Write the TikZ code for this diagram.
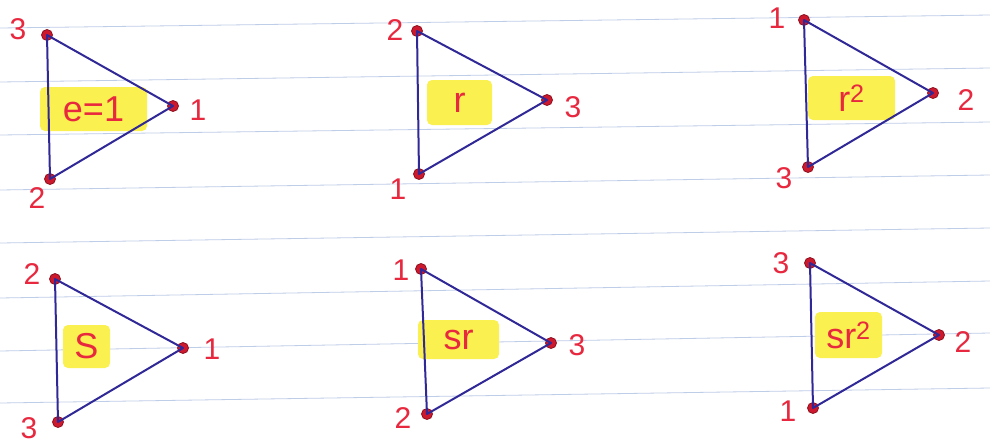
\documentclass[tikz,border=0pt]{standalone}
\usepackage{fontspec}
\setmainfont{Liberation Sans}
\definecolor{penred}{RGB}{232,40,62}
\definecolor{dotred}{RGB}{205,25,45}
\definecolor{penblue}{RGB}{48,40,150}
\definecolor{hilite}{RGB}{250,240,80}
\definecolor{rule}{RGB}{190,205,232}
\tikzset{
  vtx/.style={circle,fill=dotred,draw=dotred!70!black,line width=0.8pt,inner sep=0pt,minimum size=11pt},
  edge/.style={penblue,line width=2pt,line join=round},
  lbl/.style={text=penred,font=\fontsize{30}{30}\selectfont,inner sep=0pt},
  hl/.style={fill=hilite,rounded corners=5pt,text=penred,font=\fontsize{36}{36}\selectfont,inner sep=0pt},
  ruled/.style={rule,line width=0.8pt}
}
\begin{document}
\begin{tikzpicture}[x=1pt,y=-1pt]
\useasboundingbox (0,0) rectangle (990,445);
\fill[white] (0,0) rectangle (990,445);
% ruled paper
\foreach \a/\b in {28/15,82/68,135/122,190/175,243/228,298/281,351/333,403/388}
  \draw[ruled] (0,\a) -- (990,\b);

% highlights
\node[hl,minimum width=107pt,minimum height=44pt] (h1) at (93.5,109) {e=1};
\node[hl,minimum width=65pt,minimum height=45pt] (h2) at (459.5,102.5) {r};
\node[hl,minimum width=87pt,minimum height=44pt] (h3) at (851.5,98) {r\textsuperscript{2}};
\node[hl,minimum width=47pt,minimum height=43pt] (h4) at (86.5,346.5) {S};
\node[hl,minimum width=81pt,minimum height=39pt] (h5) at (458.5,339.5) {sr};
\node[hl,minimum width=67pt,minimum height=46pt] (h6) at (848.5,335) {sr\textsuperscript{2}};

% triangle 1 : e=1
\node[vtx] (a1) at (47,35) {};
\node[vtx] (b1) at (173,106) {};
\node[vtx] (c1) at (50,179) {};
\draw[edge] (a1.center) -- (b1.center) -- (c1.center) -- cycle;
\node[lbl] (la1) at (18,29) {3};
\node[lbl] (lb1) at (198,110) {1};
\node[lbl] (lc1) at (37,198) {2};

% triangle 2 : r
\node[vtx] (a2) at (417,31) {};
\node[vtx] (b2) at (547,100) {};
\node[vtx] (c2) at (419,174) {};
\draw[edge] (a2.center) -- (b2.center) -- (c2.center) -- cycle;
\node[lbl] (la2) at (395,30) {2};
\node[lbl] (lb2) at (573,107) {3};
\node[lbl] (lc2) at (398,189) {1};

% triangle 3 : r^2
\node[vtx] (a3) at (804,20) {};
\node[vtx] (b3) at (933,93) {};
\node[vtx] (c3) at (808,167) {};
\draw[edge] (a3.center) -- (b3.center) -- (c3.center) -- cycle;
\node[lbl] (la3) at (777,18) {1};
\node[lbl] (lb3) at (966,100) {2};
\node[lbl] (lc3) at (784,178) {3};

% triangle 4 : S
\node[vtx] (a4) at (55,279) {};
\node[vtx] (b4) at (183,348) {};
\node[vtx] (c4) at (58,422) {};
\draw[edge] (a4.center) -- (b4.center) -- (c4.center) -- cycle;
\node[lbl] (la4) at (32,274) {2};
\node[lbl] (lb4) at (212,349) {1};
\node[lbl] (lc4) at (29,428) {3};

% triangle 5 : sr
\node[vtx] (a5) at (421,269) {};
\node[vtx] (b5) at (551,343) {};
\node[vtx] (c5) at (427,414) {};
\draw[edge] (a5.center) -- (b5.center) -- (c5.center) -- cycle;
\node[lbl] (la5) at (401,270) {1};
\node[lbl] (lb5) at (577,345) {3};
\node[lbl] (lc5) at (403,418) {2};

% triangle 6 : sr^2
\node[vtx] (a6) at (810,263) {};
\node[vtx] (b6) at (939,335) {};
\node[vtx] (c6) at (813,408) {};
\draw[edge] (a6.center) -- (b6.center) -- (c6.center) -- cycle;
\node[lbl] (la6) at (781,263) {3};
\node[lbl] (lb6) at (963,342) {2};
\node[lbl] (lc6) at (788,411) {1};
\end{tikzpicture}
\end{document}
